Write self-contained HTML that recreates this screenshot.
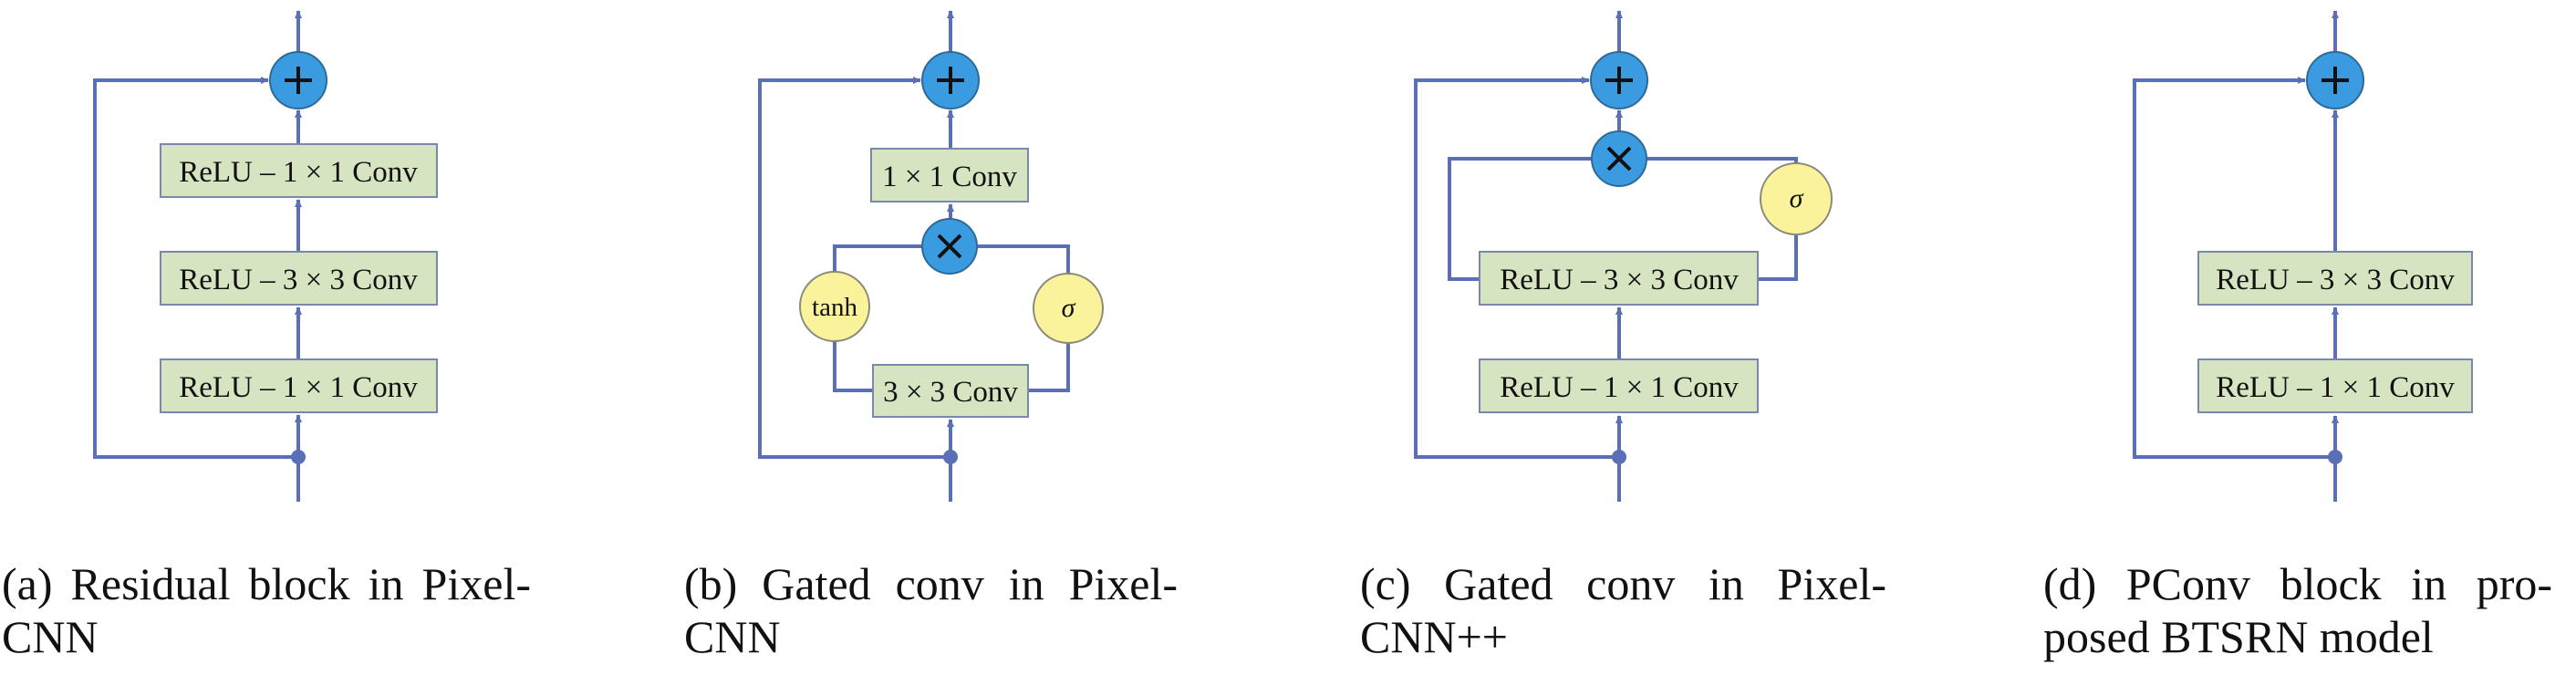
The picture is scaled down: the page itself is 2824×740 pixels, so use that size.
<!DOCTYPE html>
<html><head><meta charset="utf-8"><style>
body{margin:0;background:#fff;width:2824px;height:740px;overflow:hidden;position:relative;font-family:"Liberation Serif",serif}
.cap{position:absolute;font-size:50px;color:#111;line-height:58px}
.cap div{text-align:justify;text-align-last:justify;white-space:nowrap}
.cap div.l2{text-align-last:left}
</style></head><body>
<svg width="2824" height="740" style="position:absolute;left:0;top:0" font-family="Liberation Serif, serif">
<defs>
<marker id="ar" markerWidth="10" markerHeight="10" refX="8" refY="5" orient="auto" markerUnits="userSpaceOnUse"><path d="M0,1 L9,5 L0,9 z" fill="#5a6fb5"/></marker>
<g id="plus"><circle r="31" fill="#3b9be0" stroke="#2d6a98" stroke-width="2"/><path d="M-15,0H15M0,-15V15" stroke="#111" stroke-width="4"/></g>
<g id="times"><circle r="30" fill="#3b9be0" stroke="#2d6a98" stroke-width="2"/><path d="M-12,-12L12,12M12,-12L-12,12" stroke="#111" stroke-width="4"/></g>
</defs>
<g stroke="#5a6fb5" stroke-width="4" fill="none">
<path d="M327,550V501M327,501V455" marker-end="url(#ar)"/>
<path d="M327,393V337" marker-end="url(#ar)"/>
<path d="M327,276V219" marker-end="url(#ar)"/>
<path d="M327,158V121" marker-end="url(#ar)"/>
<path d="M327,57V12" marker-end="url(#ar)"/>
<path d="M327,501H104V88H294" marker-end="url(#ar)"/>
<path d="M1042,550V460" marker-end="url(#ar)"/>
<path d="M1042,501H833V88H1009" marker-end="url(#ar)"/>
<path d="M1042,241V224" marker-end="url(#ar)"/>
<path d="M1042,163V121" marker-end="url(#ar)"/>
<path d="M1042,57V12" marker-end="url(#ar)"/>
<path d="M956,428H915V374M915,298V270H1171V300M1171,376V428H1127"/>
<path d="M1775,550V456" marker-end="url(#ar)"/>
<path d="M1775,394V337" marker-end="url(#ar)"/>
<path d="M1775,501H1552V88H1742" marker-end="url(#ar)"/>
<path d="M1775,144V121" marker-end="url(#ar)"/>
<path d="M1775,57V12" marker-end="url(#ar)"/>
<path d="M1622,306H1589V174H1969V180M1969,256V306H1927"/>
<path d="M2560,550V456" marker-end="url(#ar)"/>
<path d="M2560,394V337" marker-end="url(#ar)"/>
<path d="M2560,276V121" marker-end="url(#ar)"/>
<path d="M2560,57V12" marker-end="url(#ar)"/>
<path d="M2560,501H2340V88H2527" marker-end="url(#ar)"/>
</g>
<g fill="#5a6fb5"><circle cx="327" cy="501" r="8"/><circle cx="1042" cy="501" r="8"/><circle cx="1775" cy="501" r="8"/><circle cx="2560" cy="501" r="8"/></g>
<use href="#plus" x="327" y="88"/><use href="#plus" x="1042" y="88"/><use href="#plus" x="1775" y="88"/><use href="#plus" x="2560" y="88"/>
<use href="#times" x="1041" y="270"/><use href="#times" x="1775" y="174"/>
<g fill="#d6e4c2" stroke="#7a88ac" stroke-width="2">
<rect x="176" y="158" width="303" height="58"/><rect x="176" y="276" width="303" height="58"/><rect x="176" y="394" width="303" height="58"/>
<rect x="955" y="163" width="172" height="58"/><rect x="957" y="400" width="170" height="57"/>
<rect x="1622" y="276" width="305" height="58"/><rect x="1622" y="394" width="305" height="58"/>
<rect x="2410" y="276" width="300" height="58"/><rect x="2410" y="394" width="300" height="58"/>
</g>
<g fill="#fbf39c" stroke="#8a8a7a" stroke-width="2">
<circle cx="915" cy="336" r="38"/><circle cx="1171" cy="338" r="38"/><circle cx="1969" cy="218" r="39"/>
</g>
<g font-size="33" fill="#111" text-anchor="middle">
<text x="327" y="199">ReLU – 1 × 1 Conv</text><text x="327" y="317">ReLU – 3 × 3 Conv</text><text x="327" y="435">ReLU – 1 × 1 Conv</text>
<text x="1041" y="204">1 × 1 Conv</text><text x="1042" y="440">3 × 3 Conv</text>
<text x="1775" y="317">ReLU – 3 × 3 Conv</text><text x="1775" y="435">ReLU – 1 × 1 Conv</text>
<text x="2560" y="317">ReLU – 3 × 3 Conv</text><text x="2560" y="435">ReLU – 1 × 1 Conv</text>
<text x="915" y="346" font-size="29">tanh</text>
<text x="1171" y="347" font-style="italic" font-size="30">σ</text><text x="1969" y="227" font-style="italic" font-size="30">σ</text>
</g>
</svg>
<div class="cap" style="left:2px;top:611px;width:580px"><div>(a) Residual block in Pixel-</div><div class="l2">CNN</div></div>
<div class="cap" style="left:750px;top:611px;width:541px"><div>(b) Gated conv in Pixel-</div><div class="l2">CNN</div></div>
<div class="cap" style="left:1491px;top:611px;width:577px"><div>(c) Gated conv in Pixel-</div><div class="l2">CNN++</div></div>
<div class="cap" style="left:2240px;top:611px;width:558px"><div>(d) PConv block in pro-</div><div class="l2">posed BTSRN model</div></div>
</body></html>
